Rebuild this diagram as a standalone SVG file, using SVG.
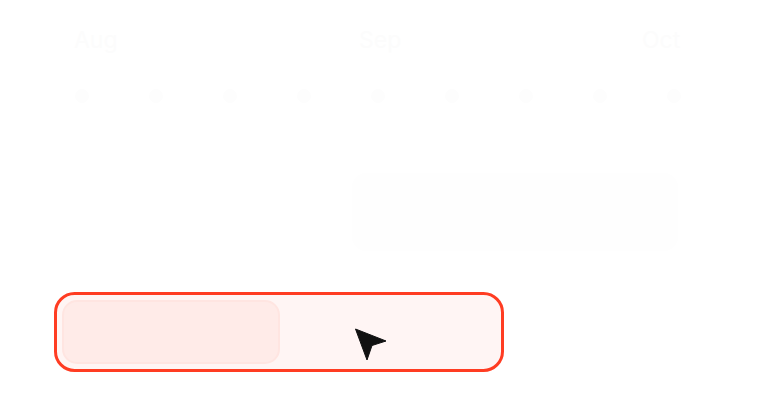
<svg xmlns="http://www.w3.org/2000/svg" width="759" height="412" viewBox="0 0 759 412">
<style>
.month{font-family:"Inter","Liberation Sans",sans-serif;font-size:23px;fill:#fcfcfc}
.dot{fill:#fdfdfd}
</style>
<rect width="759" height="412" fill="#ffffff"/>
<g id="months">
<text class="month" x="74" y="48">Aug</text>
<text class="month" x="359" y="48">Sep</text>
<text class="month" x="642" y="48">Oct</text>
</g>
<g id="dots">
<circle class="dot" cx="82" cy="96" r="7"/>
<circle class="dot" cx="156" cy="96" r="7"/>
<circle class="dot" cx="230" cy="96" r="7"/>
<circle class="dot" cx="304" cy="96" r="7"/>
<circle class="dot" cx="378" cy="96" r="7"/>
<circle class="dot" cx="452" cy="96" r="7"/>
<circle class="dot" cx="526" cy="96" r="7"/>
<circle class="dot" cx="600" cy="96" r="7"/>
<circle class="dot" cx="674" cy="96" r="7"/>
</g>
<g id="faint-track">
<rect x="352" y="173" width="326" height="78" rx="14" fill="#fefefe"/>
<rect x="352" y="175" width="179" height="74" rx="12" fill="#fefefe"/>
</g>
<g id="highlight">
<rect x="55.5" y="293.5" width="447" height="77" rx="19" fill="#fff5f4" stroke="#ff3c22" stroke-width="3"/>
<rect x="63" y="301" width="216" height="62" rx="14" fill="#ffebe8" stroke="#ffe5e1" stroke-width="2"/>
</g>
<g id="cursor">
<path d="M355.5 329 L386 341 L372 345.5 L367 360 Z" fill="#111111" stroke="#111111" stroke-width="1" stroke-linejoin="round"/>
</g>
</svg>
